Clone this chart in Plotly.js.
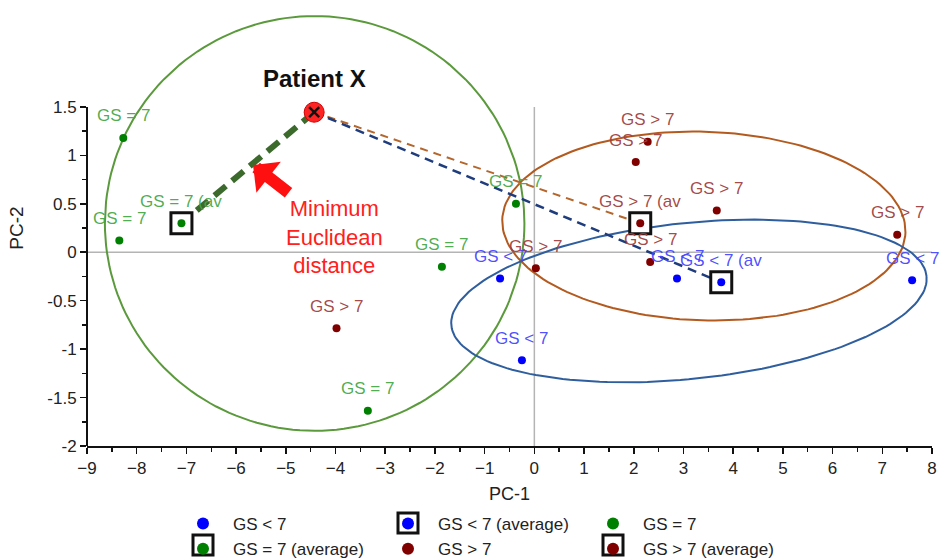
<!DOCTYPE html>
<html>
<head>
<meta charset="utf-8">
<script src="https://cdn.plot.ly/plotly-3.0.1.min.js"></script>
<style>html,body{margin:0;padding:0;background:#fff;}#chart{width:940px;height:560px;}</style>
</head>
<body>
<div id="chart"></div>
<script>
// ---- data ----
const gsLtX = [-0.69, -0.25, 2.87, 7.60];
const gsLtY = [-0.27, -1.115, -0.27, -0.29];
const gsLtText = ['GS < 7', 'GS < 7', 'GS < 7', 'GS < 7'];
const gsLtAvgX = [3.76];
const gsLtAvgY = [-0.31];
const gsLtAvgText = ['GS < 7 (av'];

const gsEqX = [-8.27, -8.35, -1.86, -3.35, -0.37];
const gsEqY = [1.18, 0.12, -0.15, -1.635, 0.50];
const gsEqText = ['GS = 7', 'GS = 7', 'GS = 7', 'GS = 7', 'GS = 7'];
const gsEqAvgX = [-7.10];
const gsEqAvgY = [0.30];
const gsEqAvgText = ['GS = 7 (av'];

const gsGtX = [2.28, 2.04, 3.67, 2.33, 0.03, 7.30, -3.98];
const gsGtY = [1.14, 0.93, 0.43, -0.10, -0.165, 0.18, -0.785];
const gsGtText = ['GS > 7', 'GS > 7', 'GS > 7', 'GS > 7', 'GS > 7', 'GS > 7', 'GS > 7'];
const gsGtAvgX = [2.13];
const gsGtAvgY = [0.30];
const gsGtAvgText = ['GS > 7 (av'];

const patientXX = [-4.43];
const patientXY = [1.445];

// group ellipses: centre, semi-axis vectors (data units)
const ellCx = [-4.42, 3.41, 3.11];
const ellCy = [0.297, 0.27, -0.503];
const ellUx = [4.22, 4.056, 4.78];
const ellUy = [0, -0.066, 0.255];
const ellVx = [0, 0.060, -0.161];
const ellVy = [2.14, 0.973, 0.80];
const ellColors = ['#5b9a3c', '#b35a1f', '#2f5e9e'];

const xTicks = [-9,-8,-7,-6,-5,-4,-3,-2,-1,0,1,2,3,4,5,6,7,8];
const xMinor = [-8.5,-7.5,-6.5,-5.5,-4.5,-3.5,-2.5,-1.5,-0.5,0.5,1.5,2.5,3.5,4.5,5.5,6.5,7.5];
const yTicks = [-2,-1.5,-1,-0.5,0,0.5,1,1.5];
const yTickText = ['-2','-1.5','-1','-0.5','0','0.5','1','1.5'];
const yMinor = [-1.75,-1.25,-0.75,-0.25,0.25,0.75,1.25];

// ---- build ----
const FONT = 'Liberation Sans, Arial, sans-serif';
const traces = [];
const annotations = [];

function ellipsePts(i) {
  const xs = [], ys = [];
  const n = 180;
  for (let k = 0; k <= n; k++) {
    const t = 2 * Math.PI * k / n;
    xs.push(ellCx[i] + ellUx[i] * Math.cos(t) + ellVx[i] * Math.sin(t));
    ys.push(ellCy[i] + ellUy[i] * Math.cos(t) + ellVy[i] * Math.sin(t));
  }
  return {xs, ys};
}
for (let i = 0; i < ellCx.length; i++) {
  const p = ellipsePts(i);
  traces.push({x: p.xs, y: p.ys, mode: 'lines', line: {color: ellColors[i], width: 2},
    hoverinfo: 'skip', showlegend: false});
}

// distance lines from Patient X to group averages
traces.push({x: [patientXX[0], gsEqAvgX[0]], y: [patientXY[0], gsEqAvgY[0]], mode: 'lines',
  line: {color: '#3c6a2c', width: 6, dash: '15px,8px'}, showlegend: false, hoverinfo: 'skip'});
traces.push({x: [patientXX[0], gsGtAvgX[0]], y: [patientXY[0], gsGtAvgY[0]], mode: 'lines',
  line: {color: '#b5662c', width: 2, dash: '8px,6px'}, showlegend: false, hoverinfo: 'skip'});
traces.push({x: [patientXX[0], gsLtAvgX[0]], y: [patientXY[0], gsLtAvgY[0]], mode: 'lines',
  line: {color: '#1f3c7c', width: 2.5, dash: '9px,6px'}, showlegend: false, hoverinfo: 'skip'});

// boxes around averages
traces.push({x: [gsLtAvgX[0], gsEqAvgX[0], gsGtAvgX[0]], y: [gsLtAvgY[0], gsEqAvgY[0], gsGtAvgY[0]],
  mode: 'markers', marker: {symbol: 'square', size: 21, color: 'white', line: {color: '#111', width: 3}},
  showlegend: false, hoverinfo: 'skip'});

function addSeries(name, xs, ys, texts, markerColor, textColor, legendId) {
  traces.push({name: name, x: xs, y: ys, mode: 'markers', marker: {color: markerColor, size: 8},
    cliponaxis: false, legend: legendId});
  for (let i = 0; i < xs.length; i++) {
    annotations.push({x: xs[i], y: ys[i], xref: 'x', yref: 'y', text: texts[i], showarrow: false,
      yshift: 22, font: {family: FONT, size: 17, color: textColor}});
  }
}
const cBlue = 'rgba(70,70,255,0.95)', cGreen = 'rgba(70,168,70,0.95)', cRed = 'rgba(160,64,64,0.95)';
addSeries('GS < 7', gsLtX, gsLtY, gsLtText, '#0000ff', cBlue, 'legend');
addSeries('GS < 7 (average)', gsLtAvgX, gsLtAvgY, gsLtAvgText, '#0000ff', cBlue, 'legend2');
addSeries('GS = 7', gsEqX, gsEqY, gsEqText, '#008000', cGreen, 'legend3');
addSeries('GS = 7 (average)', gsEqAvgX, gsEqAvgY, gsEqAvgText, '#008000', cGreen, 'legend');
addSeries('GS > 7', gsGtX, gsGtY, gsGtText, '#800000', cRed, 'legend2');
addSeries('GS > 7 (average)', gsGtAvgX, gsGtAvgY, gsGtAvgText, '#800000', cRed, 'legend3');

// Patient X
traces.push({x: patientXX, y: patientXY, mode: 'markers', marker: {symbol: 'circle', size: 20, color: '#ff2424', line: {color: '#d00000', width: 1}},
  showlegend: false, hoverinfo: 'skip', cliponaxis: false});
traces.push({x: patientXX, y: patientXY, mode: 'markers', marker: {symbol: 'x-thin-open', size: 10, color: '#111', line: {color: '#111', width: 2.5}},
  showlegend: false, hoverinfo: 'skip', cliponaxis: false});

// layout helpers (pixel -> paper for legend decoration)
const M = {l: 87, r: 8, t: 10, b: 114, autoexpand: false};
const PW = 940 - M.l - M.r, PH = 560 - M.t - M.b;
const px2x = (px) => (px - M.l) / PW;
const py2y = (py) => (560 - M.b - py) / PH;

const legBase = {orientation: 'v', xanchor: 'left', yanchor: 'top', bgcolor: 'rgba(0,0,0,0)',
  font: {family: FONT, size: 17, color: '#222'}, itemsizing: 'constant', itemwidth: 50, tracegroupgap: 0};
const legTop = py2y(506);

const boxShape = (cx, cy) => ({type: 'rect', xref: 'paper', yref: 'paper', layer: 'below',
  x0: px2x(cx - 10), x1: px2x(cx + 10), y0: py2y(cy + 10), y1: py2y(cy - 10),
  line: {color: '#111', width: 3}, fillcolor: 'white'});

annotations.push(
  {x: patientXX[0], y: patientXY[0], xref: 'x', yref: 'y', text: '<b>Patient X</b>', showarrow: false,
    yshift: 34, font: {family: FONT, size: 24, color: '#111'}},
  {x: -5.66, y: 0.90, xref: 'x', yref: 'y', text: '', showarrow: true, arrowhead: 1, arrowsize: 0.55,
    arrowwidth: 12, arrowcolor: '#ff1010', ax: 37, ay: 29, standoff: 0},
  {x: -4.02, y: 0.16, xref: 'x', yref: 'y', text: 'Minimum<br>Euclidean<br>distance', showarrow: false,
    font: {family: FONT, size: 22, color: '#ff2020'}, align: 'center'}
);

const layout = {
  width: 940, height: 560, margin: M,
  paper_bgcolor: 'white', plot_bgcolor: 'rgba(0,0,0,0)',
  font: {family: FONT, color: '#222'},
  xaxis: {range: [-9, 8], tickvals: xTicks, showgrid: false, zeroline: false, automargin: false,
    showline: true, linecolor: '#111', linewidth: 2, ticks: 'outside', ticklen: 6, tickwidth: 1.5, tickcolor: '#111',
    minor: {tickmode: 'array', tickvals: xMinor, ticks: 'outside', ticklen: 4, tickwidth: 1.5, tickcolor: '#111', showgrid: false},
    tickfont: {family: FONT, size: 17, color: '#222'},
    title: {text: 'PC-1', font: {family: FONT, size: 18, color: '#222'}, standoff: 10}},
  yaxis: {range: [-2, 2.5], tickvals: yTicks, ticktext: yTickText, showgrid: false, zeroline: false, automargin: false,
    showline: false, ticks: 'outside', ticklen: 6, tickwidth: 1.5, tickcolor: '#111',
    minor: {tickmode: 'array', tickvals: yMinor, ticks: 'outside', ticklen: 4, tickwidth: 1.5, tickcolor: '#111', showgrid: false},
    tickfont: {family: FONT, size: 17, color: '#222'},
    title: {text: 'PC-2', font: {family: FONT, size: 19, color: '#222'}, standoff: 18}},
  showlegend: true,
  legend: Object.assign({}, legBase, {x: px2x(173), y: legTop}),
  legend2: Object.assign({}, legBase, {x: px2x(378), y: legTop}),
  legend3: Object.assign({}, legBase, {x: px2x(583), y: legTop}),
  shapes: [
    {type: 'line', xref: 'paper', yref: 'y', x0: 0, x1: 0, y0: yTicks[0], y1: yTicks[yTicks.length - 1], line: {color: '#111', width: 2}},
    {type: 'line', xref: 'x', yref: 'y', x0: 0, x1: 0, y0: yTicks[0], y1: yTicks[yTicks.length - 1], line: {color: '#b4b4b4', width: 1.5}, layer: 'below'},
    {type: 'line', xref: 'x', yref: 'y', x0: xTicks[0], x1: xTicks[xTicks.length - 1], y0: 0, y1: 0, line: {color: '#b4b4b4', width: 1.5}, layer: 'below'},
    boxShape(203, 545), boxShape(408, 523), boxShape(613, 545)
  ],
  annotations: annotations
};

Plotly.newPlot('chart', traces, layout, {displayModeBar: false, staticPlot: true});
</script>
</body>
</html>
